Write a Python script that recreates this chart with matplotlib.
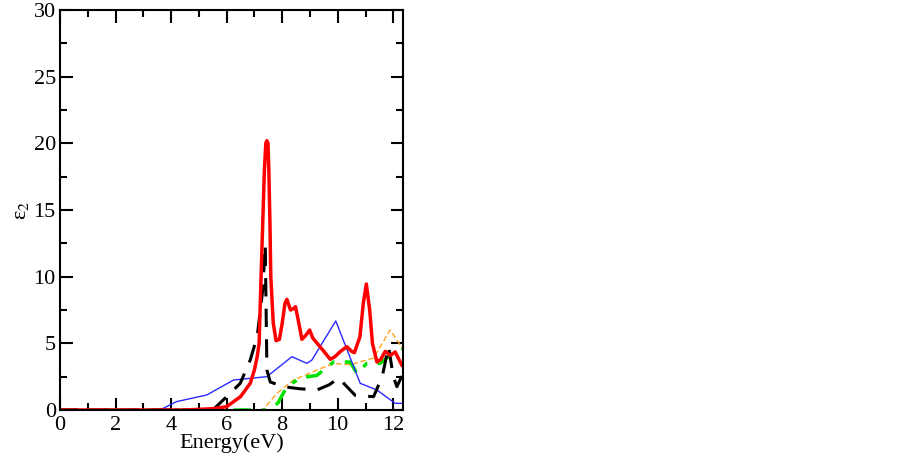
import numpy as np
import matplotlib.pyplot as plt
from matplotlib.ticker import MultipleLocator

plt.rcParams['font.family'] = ['Liberation Serif', 'DejaVu Serif']
plt.rcParams['mathtext.fontset'] = 'stix'

# curves (energy in eV, epsilon_2)
red_x = [0, 4.5, 5.0, 5.5, 6.0, 6.5, 6.85, 7.0, 7.1, 7.17, 7.24, 7.3, 7.36, 7.41, 7.45,
         7.49, 7.52, 7.56, 7.59, 7.68, 7.78, 7.9, 8.0, 8.1, 8.17, 8.3, 8.4, 8.48, 8.6,
         8.71, 8.85, 8.99, 9.1, 9.3, 9.5, 9.73, 9.9, 10.1, 10.33, 10.5, 10.6, 10.8,
         10.92, 11.03, 11.15, 11.25, 11.41, 11.55, 11.71, 11.89, 12.07, 12.31, 12.4]
red_y = [0, 0, 0.05, 0.1, 0.25, 1.0, 2.0, 3.0, 4.0, 5.0, 10.0, 14.0, 18.0, 20.0, 20.2,
         20.0, 18.0, 14.0, 10.0, 6.5, 5.2, 5.3, 6.5, 8.0, 8.3, 7.5, 7.6, 7.75, 6.5,
         5.3, 5.6, 6.0, 5.4, 4.9, 4.4, 3.8, 4.0, 4.4, 4.75, 4.4, 4.3, 5.5,
         8.0, 9.45, 7.5, 5.0, 3.6, 3.8, 4.4, 4.1, 4.35, 3.35, 3.2]

black_x = [0, 5.5, 6.0, 6.49, 6.85, 7.1, 7.3, 7.39, 7.45, 7.57, 8.05, 8.6, 9.25, 9.7,
           10.03, 10.63, 11.29, 11.6, 11.83, 12.0, 12.13, 12.3, 12.4]
black_y = [0, 0, 1.0, 2.0, 3.75, 5.5, 9.0, 12.4, 3.0, 2.1, 1.75, 1.6, 1.5, 1.9,
           2.4, 1.1, 1.0, 2.5, 4.75, 2.5, 1.75, 2.5, 2.6]

blue_x = [0, 3.6, 4.2, 5.29, 6.25, 7.45, 8.35, 8.89, 9.07, 9.93, 10.81, 11.41, 12.07, 12.4]
blue_y = [0, 0, 0.63, 1.13, 2.25, 2.5, 4.0, 3.5, 3.75, 6.68, 2.0, 1.5, 0.5, 0.5]

orange_x = [0, 7.3, 7.81, 8.41, 9.37, 9.85, 10.45, 11.29, 11.89, 12.4]
orange_y = [0, 0, 1.25, 2.25, 3.1, 3.5, 3.4, 3.9, 6.0, 4.4]

green_x = [0, 7.4, 7.84, 8.17, 8.65, 9.25, 9.85, 10.45, 10.69, 11.05, 11.53, 11.89, 12.4]
green_y = [0, 0, 0.5, 1.75, 2.4, 2.6, 3.6, 3.6, 2.75, 3.5, 3.5, 4.1, 4.6]

fig = plt.figure(figsize=(9.03, 4.58), dpi=100)
ax = fig.add_axes([0.0664, 0.1048, 0.3799, 0.8733])

ax.plot(orange_x, orange_y, color='#ffa520', lw=1.0, dashes=(4, 2))
ax.plot(green_x, green_y, color='#00e000', lw=2.5, dashes=(5, 3, 1.5, 3))
ax.plot(blue_x, blue_y, color='#2a2aff', lw=1.0)
ax.plot(black_x, black_y, color='black', lw=2.2, dashes=(6, 4))
ax.plot(red_x, red_y, color='#ff0000', lw=2.5)

ax.set_xlim(0, 12.35)
ax.set_ylim(0, 30)
ax.xaxis.set_major_locator(MultipleLocator(2))
ax.xaxis.set_minor_locator(MultipleLocator(1))
ax.yaxis.set_major_locator(MultipleLocator(5))
ax.yaxis.set_minor_locator(MultipleLocator(2.5))
ax.tick_params(which='both', direction='in', top=True, right=True, labelsize=16, width=1.5)
ax.tick_params(axis='x', pad=4)
ax.tick_params(axis='y', pad=3)
ax.tick_params(which='major', length=9)
ax.tick_params(which='minor', length=5)
for s in ax.spines.values():
    s.set_linewidth(1.5)

ax.set_xlabel('Energy(eV)', fontsize=16, labelpad=-1)
ax.set_ylabel('ε$_2$', fontsize=16, labelpad=2)

fig.savefig('out.png', dpi=100)
